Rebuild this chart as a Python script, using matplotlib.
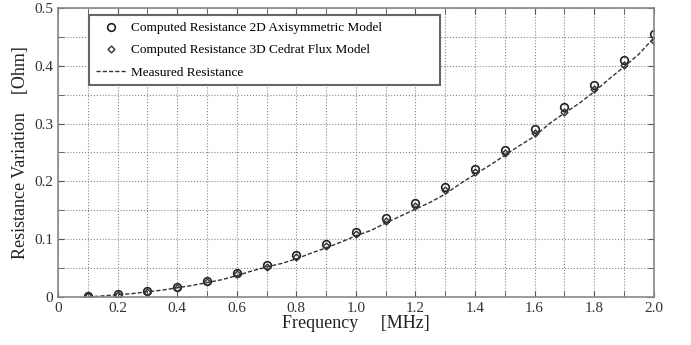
import matplotlib
matplotlib.use("Agg")
import matplotlib.pyplot as plt
import numpy as np

freq_pts = [0.1, 0.2, 0.3, 0.4, 0.5, 0.6, 0.7, 0.8, 0.9, 1.0,
            1.1, 1.2, 1.3, 1.4, 1.5, 1.6, 1.7, 1.8, 1.9, 2.0]
r_2d = [0.002, 0.005, 0.010, 0.017, 0.027, 0.041, 0.055, 0.073, 0.091, 0.113,
        0.137, 0.162, 0.190, 0.222, 0.255, 0.290, 0.329, 0.367, 0.410, 0.455]
r_3d = [0.001, 0.004, 0.009, 0.016, 0.026, 0.039, 0.052, 0.070, 0.088, 0.109,
        0.132, 0.157, 0.185, 0.216, 0.249, 0.284, 0.320, 0.360, 0.401, 0.443]
freq_meas = [0.1, 0.15, 0.2, 0.25, 0.3, 0.35, 0.4, 0.45, 0.5, 0.55, 0.6, 0.65, 0.7,
             0.75, 0.8, 0.85, 0.9, 0.95, 1.0, 1.05, 1.1, 1.15, 1.2, 1.25, 1.3, 1.35,
             1.4, 1.45, 1.5, 1.55, 1.6, 1.65, 1.7, 1.75, 1.8, 1.85, 1.9, 1.95, 2.0]
r_meas = [0.000, 0.002, 0.004, 0.006, 0.009, 0.012, 0.016, 0.020, 0.025, 0.030,
          0.037, 0.045, 0.052, 0.058, 0.066, 0.076, 0.085, 0.095, 0.106, 0.115,
          0.128, 0.140, 0.152, 0.164, 0.178, 0.196, 0.212, 0.228, 0.245, 0.262,
          0.278, 0.300, 0.318, 0.335, 0.355, 0.377, 0.398, 0.420, 0.448]

plt.rcParams['font.family'] = ['Liberation Serif', 'DejaVu Serif']

fig = plt.figure(figsize=(6.91, 3.45), dpi=100)
ax = fig.add_axes([0.084, 0.139, 0.862, 0.838])

ax.plot(freq_pts, r_2d, linestyle='none', marker='o', markersize=5.5,
        markerfacecolor='none', markeredgecolor='#222222', markeredgewidth=1.2,
        label='Computed Resistance 2D Axisymmetric Model')
ax.plot(freq_pts, r_3d, linestyle='none', marker='D', markersize=3.5,
        markerfacecolor='none', markeredgecolor='#333333', markeredgewidth=1.0,
        label='Computed Resistance 3D Cedrat Flux Model')
ax.plot(freq_meas, r_meas, linestyle=(0, (3, 1.5)), color='#333333', linewidth=1.0,
        label='Measured Resistance')

ax.set_xlim(0, 2.0)
ax.set_ylim(0, 0.5)
ax.set_xticks(np.arange(0, 2.01, 0.2))
ax.set_xticklabels(['0', '0.2', '0.4', '0.6', '0.8', '1.0', '1.2', '1.4', '1.6', '1.8', '2.0'])
ax.set_xticks(np.arange(0.1, 2.0, 0.2), minor=True)
ax.set_yticks([0, 0.1, 0.2, 0.3, 0.4, 0.5])
ax.set_yticklabels(['0', '0.1', '0.2', '0.3', '0.4', '0.5'])
ax.set_yticks([0.05, 0.15, 0.25, 0.35, 0.45], minor=True)
ax.tick_params(which='both', direction='in', top=True, right=True, length=4,
               color='#555555', labelsize=11, labelcolor='#333333')
ax.grid(True, which='both', linestyle=':', color='#888888', linewidth=0.8)
for s in ax.spines.values():
    s.set_color('#888888')
    s.set_linewidth(1.2)

ax.set_xlabel('Frequency     [MHz]', fontsize=13, color='#222222', labelpad=0)
ax.set_ylabel('Resistance Variation    [Ohm]', fontsize=13, color='#222222', labelpad=4)

leg = ax.legend(loc='upper left', bbox_to_anchor=(0.052, 0.0, 0.589, 0.974),
                mode='expand', fontsize=9.5,
                frameon=True, fancybox=False, edgecolor='#666666', framealpha=1,
                handlelength=2.4, handletextpad=0.3, borderpad=0.5,
                labelspacing=0.75, borderaxespad=0)
leg.get_frame().set_linewidth(1.5)

fig.savefig('out.png', dpi=100)
